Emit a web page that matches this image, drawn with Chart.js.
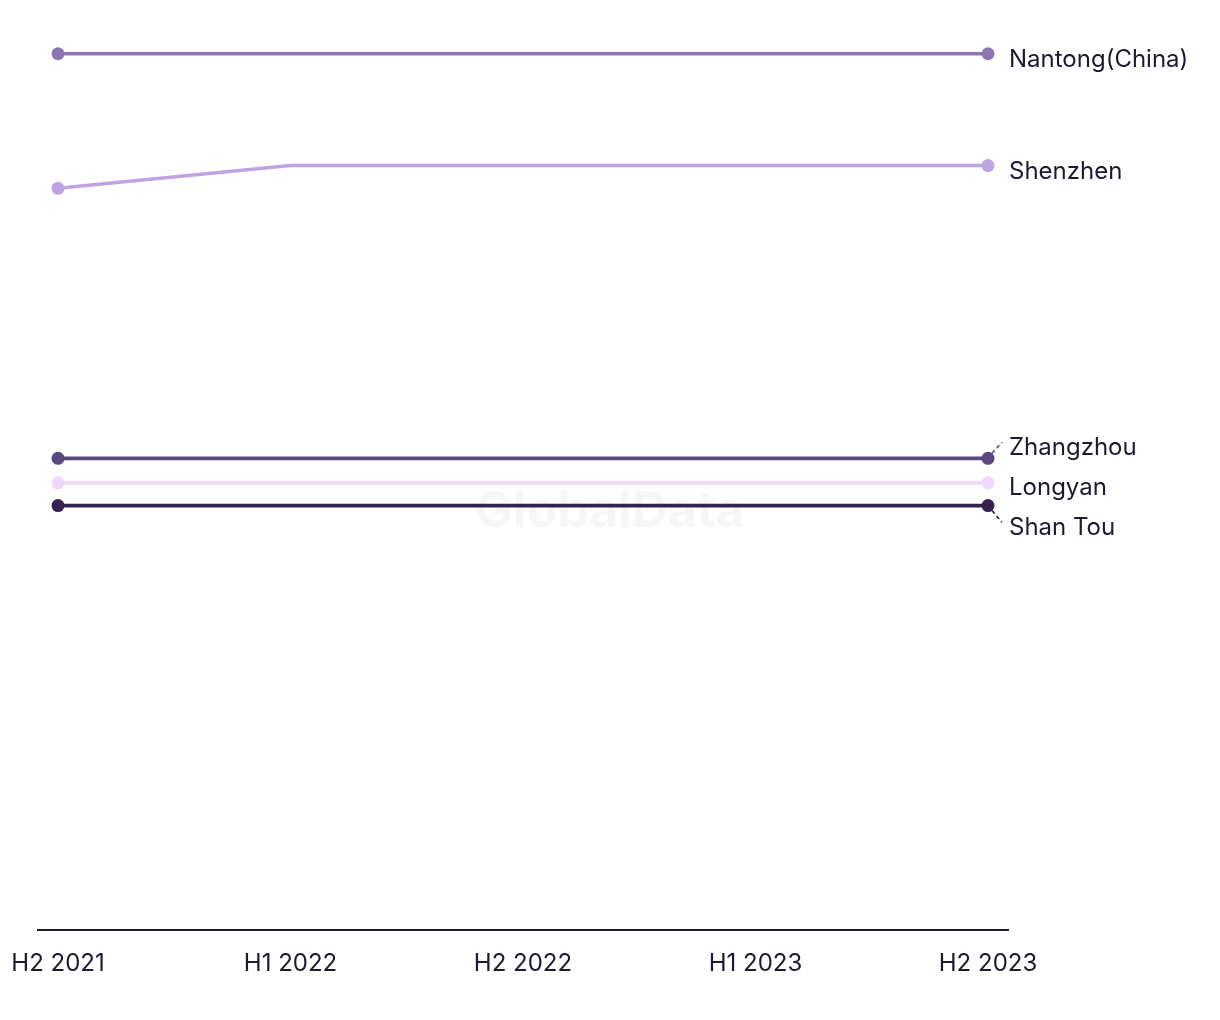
<!DOCTYPE html>
<html>
<head>
<meta charset="utf-8">
<script src="https://cdn.jsdelivr.net/npm/chart.js@4.4.1/dist/chart.umd.min.js"></script>
<style>
html,body{margin:0;padding:0;background:#fff;}
#wrap{width:1220px;height:1020px;position:relative;}
</style>
</head>
<body>
<div id="wrap"><canvas id="c" width="1220" height="1020"></canvas></div>
<script>
const categories = ["H2 2021", "H1 2022", "H2 2022", "H1 2023", "H2 2023"];
const seriesNames = ["Nantong(China)", "Shenzhen", "Zhangzhou", "Longyan", "Shan Tou"];
const nantong   = [96.4, 96.4, 96.4, 96.4, 96.4];
const shenzhen  = [81.6, 84.1, 84.1, 84.1, 84.1];
const zhangzhou = [51.9, 51.9, 51.9, 51.9, 51.9];
const longyan   = [49.2, 49.2, 49.2, 49.2, 49.2];
const shantou   = [46.7, 46.7, 46.7, 46.7, 46.7];
const seriesColors = ["#8e74b0", "#bfa3e2", "#5c4680", "#f0d8fc", "#35224f"];

const FONT = "Inter, 'Noto Sans', sans-serif";
const TEXT = "#1b1a2e";

const allSeries = [nantong, shenzhen, zhangzhou, longyan, shantou];
const datasets = allSeries.map((vals, i) => ({
  label: seriesNames[i],
  data: vals.map((v, j) => ({x: j, y: v})),
  borderColor: seriesColors[i],
  backgroundColor: seriesColors[i],
  borderWidth: 3.6,
  pointRadius: vals.map((v, j) => (j === 0 || j === vals.length - 1) ? 6.5 : 0),
  pointHoverRadius: 6.5,
  pointBorderWidth: 0,
  tension: 0,
  clip: false
}));

const watermark = {
  id: 'watermark',
  beforeDatasetsDraw(chart) {
    const ctx = chart.ctx;
    ctx.save();
    ctx.font = "bold 50px " + FONT;
    ctx.fillStyle = "rgba(0,0,0,0.035)";
    ctx.textAlign = "center";
    ctx.textBaseline = "middle";
    ctx.fillText("GlobalData", 610, 512);
    ctx.restore();
  }
};

const endLabels = {
  id: 'endLabels',
  afterDatasetsDraw(chart) {
    const ctx = chart.ctx;
    const items = [];
    chart.data.datasets.forEach((ds, i) => {
      const meta = chart.getDatasetMeta(i);
      const pt = meta.data[meta.data.length - 1];
      items.push({name: ds.label, color: ds.borderColor, px: pt.x, py: pt.y, y0: pt.y + 6});
    });
    items.sort((a, b) => a.y0 - b.y0);
    const gap = 40;
    let clusters = items.map(it => ({items: [it], mean: it.y0}));
    const place = c => { const n = c.items.length; const start = c.mean - gap * (n - 1) / 2; c.items.forEach((it, k) => it.ly = start + k * gap); };
    clusters.forEach(place);
    let changed = true;
    while (changed) {
      changed = false;
      for (let k = 0; k < clusters.length - 1; k++) {
        const a = clusters[k], b = clusters[k + 1];
        const aLast = a.items[a.items.length - 1].ly, bFirst = b.items[0].ly;
        if (bFirst - aLast < gap) {
          const merged = a.items.concat(b.items);
          const m = merged.reduce((s, it) => s + it.y0, 0) / merged.length;
          const c = {items: merged, mean: m};
          place(c);
          clusters.splice(k, 2, c);
          changed = true;
          break;
        }
      }
    }
    ctx.save();
    ctx.font = "24px " + FONT;
    ctx.fillStyle = TEXT;
    ctx.textAlign = "left";
    ctx.textBaseline = "middle";
    items.forEach(it => {
      const lx = it.px + 21;
      if (Math.abs(it.ly - it.y0) > 2) {
        ctx.save();
        ctx.strokeStyle = it.color;
        ctx.lineWidth = 1.6;
        ctx.setLineDash([4, 3]);
        ctx.beginPath();
        const dir = it.ly < it.y0 ? -1 : 1;
        ctx.moveTo(it.px + 4, it.py + dir * 5);
        ctx.lineTo(it.px + 14, it.ly - 6);
        ctx.stroke();
        ctx.restore();
      }
      ctx.fillText(it.name, lx, it.ly);
    });
    ctx.restore();
  }
};

new Chart(document.getElementById('c'), {
  type: 'line',
  data: { datasets },
  options: {
    responsive: false,
    animation: false,
    devicePixelRatio: 1,
    layout: { padding: { left: 38, right: 212, top: 21, bottom: 23 } },
    plugins: { legend: { display: false }, tooltip: { enabled: false } },
    scales: {
      x: {
        type: 'linear',
        min: -20 / 232.5,
        max: 4 + 20 / 232.5,
        afterBuildTicks(scale) { scale.ticks = categories.map((c, i) => ({value: i})); },
        afterFit(scale) { scale.paddingLeft = 0; scale.paddingRight = 0; },
        ticks: {
          callback: (v) => categories[v] ?? '',
          color: TEXT,
          font: { family: FONT, size: 24 },
          padding: 19,
          maxRotation: 0,
          autoSkip: false
        },
        grid: { display: false, drawTicks: false },
        border: { display: true, color: TEXT, width: 2 }
      },
      y: {
        display: false,
        min: 0,
        max: 100
      }
    }
  },
  plugins: [watermark, endLabels]
});
</script>
</body>
</html>
